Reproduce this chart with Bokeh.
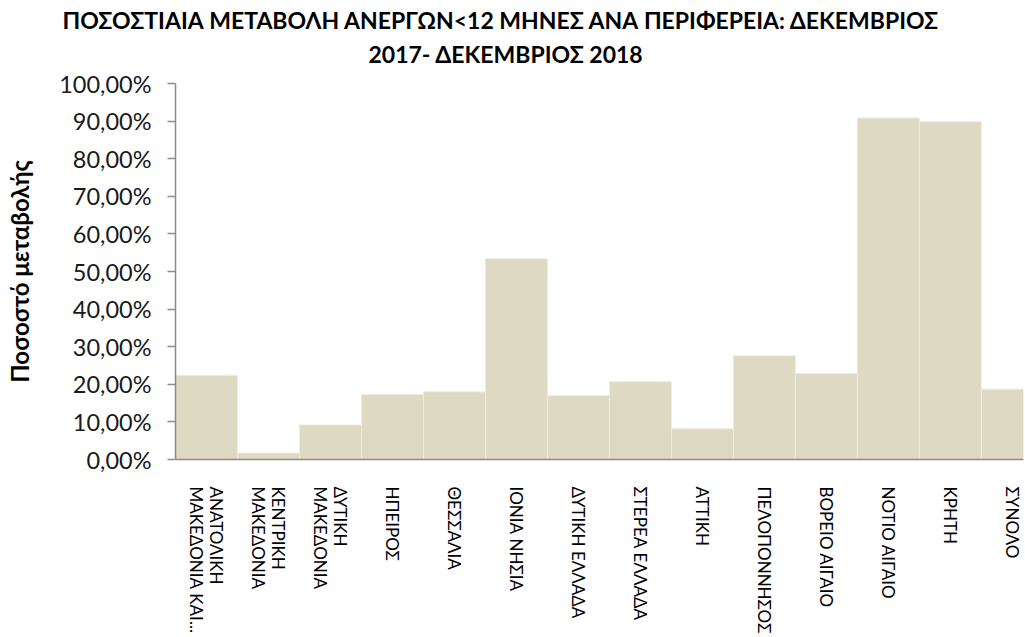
from bokeh.plotting import figure
from bokeh.models import Range1d, FixedTicker, Title
from bokeh.embed import file_html
from bokeh.resources import INLINE

regions = ["ΑΝΑΤΟΛΙΚΗ\nΜΑΚΕΔΟΝΙΑ ΚΑΙ...", "ΚΕΝΤΡΙΚΗ\nΜΑΚΕΔΟΝΙΑ", "ΔΥΤΙΚΗ\nΜΑΚΕΔΟΝΙΑ",
           "ΗΠΕΙΡΟΣ", "ΘΕΣΣΑΛΙΑ", "ΙΟΝΙΑ ΝΗΣΙΑ", "ΔΥΤΙΚΗ ΕΛΛΑΔΑ", "ΣΤΕΡΕΑ ΕΛΛΑΔΑ",
           "ΑΤΤΙΚΗ", "ΠΕΛΟΠΟΝΝΗΣΟΣ", "ΒΟΡΕΙΟ ΑΙΓΑΙΟ", "ΝΟΤΙΟ ΑΙΓΑΙΟ", "ΚΡΗΤΗ", "ΣΥΝΟΛΟ"]
change_pct = [22.4, 1.7, 9.2, 17.3, 18.0, 53.4, 17.0, 20.7, 8.2, 27.6, 22.9, 90.8, 89.8, 18.7]
y_ticks = [0, 10, 20, 30, 40, 50, 60, 70, 80, 90, 100]
y_tick_labels = ["0,00%", "10,00%", "20,00%", "30,00%", "40,00%", "50,00%",
                 "60,00%", "70,00%", "80,00%", "90,00%", "100,00%"]
title_lines = ["ΠΟΣΟΣΤΙΑΙΑ ΜΕΤΑΒΟΛΗ  ΑΝΕΡΓΩΝ<12 ΜΗΝΕΣ ΑΝΑ ΠΕΡΙΦΕΡΕΙΑ: ΔΕΚΕΜΒΡΙΟΣ",
               "2017- ΔΕΚΕΜΒΡΙΟΣ  2018"]
y_label = "Ποσοστό μεταβολής"

xs = [i + 0.5 for i in range(len(regions))]

p = figure(width=1024, height=636, output_backend="svg", toolbar_location=None,
           x_range=Range1d(0, 13.68), y_range=Range1d(0, 100),
           min_border_left=175, min_border_right=1, min_border_top=83, min_border_bottom=175)
p.outline_line_color = None
p.grid.visible = False
p.background_fill_color = "white"
p.border_fill_color = "white"

p.vbar(x=xs, width=1.0, top=change_pct, fill_color="#DDD9C3", line_color="#EEEBDF", line_width=1)

axis_gray = "#8C8C8C"
font = "Lato"

yax = p.yaxis[0]
yax.ticker = FixedTicker(ticks=y_ticks)
yax.major_label_overrides = {t: s for t, s in zip(y_ticks, y_tick_labels)}
yax.axis_line_color = axis_gray
yax.axis_line_width = 1.5
yax.major_tick_line_color = axis_gray
yax.major_tick_line_width = 1.5
yax.major_tick_out = 8
yax.major_tick_in = 0
yax.minor_tick_line_color = None
yax.major_label_text_font = font
yax.major_label_text_font_size = "23.5px"
yax.major_label_text_color = "#1a1a1a"
yax.major_label_standoff = 16
yax.axis_label = y_label
yax.axis_label_text_font = font
yax.axis_label_text_font_style = "bold"
yax.axis_label_text_font_size = "24px"
yax.axis_label_text_color = "#000000"
yax.axis_label_standoff = 22

xax = p.xaxis[0]
xax.ticker = FixedTicker(ticks=xs)
xax.major_label_overrides = {x: r for x, r in zip(xs, regions)}
xax.major_label_orientation = "vertical"
xax.axis_line_color = axis_gray
xax.axis_line_width = 1.5
xax.major_tick_line_color = None
xax.minor_tick_line_color = None
xax.major_label_text_font = font
xax.major_label_text_font_size = "17px"
xax.major_label_text_line_height = 0.92
xax.major_label_text_color = "#000000"
xax.major_label_standoff = 21

p.title.visible = False
t2 = Title(text=title_lines[1], align="left", offset=193, text_font=font,
           text_font_style="bold", text_font_size="23px", text_color="#000000", standoff=32)
t1 = Title(text=title_lines[0], align="left", offset=-113, text_font=font,
           text_font_style="bold", text_font_size="23px", text_color="#000000", standoff=-25)
p.add_layout(t2, "above")
p.add_layout(t1, "above")

open("out.html", "w").write(file_html(p, INLINE))
